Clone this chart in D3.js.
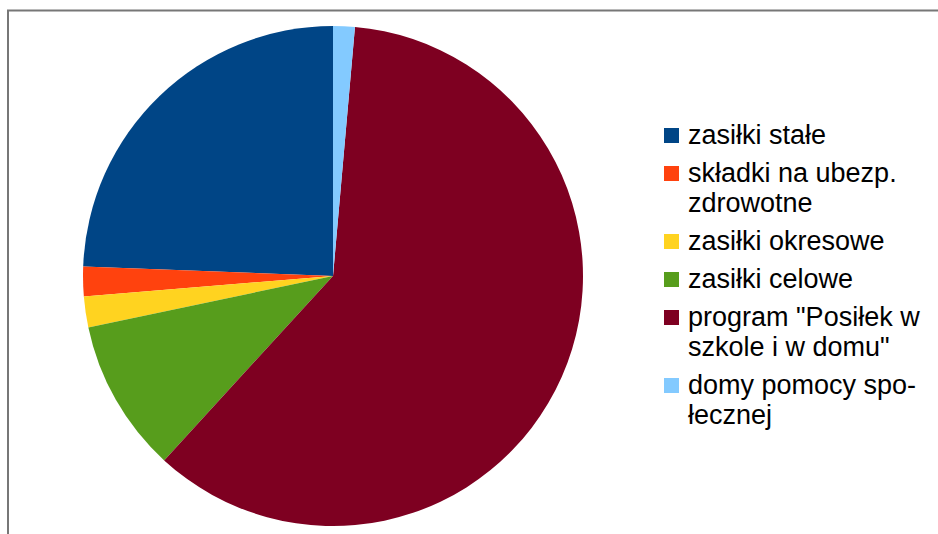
<!DOCTYPE html>
<html>
<head>
<meta charset="utf-8">
<script src="https://cdn.jsdelivr.net/npm/d3@7"></script>
<style>
  body { margin: 0; background: #fff; }
  svg { display: block; }
</style>
</head>
<body>
<script>
// udzial wydatkow (%)
var categories = [
  ["zasiłki stałe"],
  ["składki na ubezp.", "zdrowotne"],
  ["zasiłki okresowe"],
  ["zasiłki celowe"],
  ["program \"Posiłek w", "szkole i w domu\""],
  ["domy pomocy spo-", "łecznej"]
];
var values = [24.4, 1.9, 2.0, 9.9, 60.4, 1.4];
var colors = ["#004586", "#ff420e", "#ffd320", "#579d1c", "#7e0021", "#83caff"];

var width = 938, height = 534;

var svg = d3.select("body")
  .append("svg")
  .attr("width", width)
  .attr("height", height);

// ramka wykresu
svg.append("path")
  .attr("d", "M8,534 L8,10.5 L938,10.5")
  .attr("fill", "none")
  .attr("stroke", "#777")
  .attr("stroke-width", 2);

var data = values.map(function(v, i) { return { name: categories[i], value: v, color: colors[i] }; });

var pie = d3.pie()
  .sort(null)
  .value(function(d) { return d.value; })
  .startAngle(0)
  .endAngle(-2 * Math.PI);

var arc = d3.arc().innerRadius(0).outerRadius(250);

svg.append("g")
  .attr("transform", "translate(333,276)")
  .selectAll("path")
  .data(pie(data))
  .enter()
  .append("path")
  .attr("d", arc)
  .attr("fill", function(d) { return d.data.color; });

// legenda
var lineH = 30, gap = 8;
var y = 144;
var legend = svg.append("g");
data.forEach(function(d) {
  legend.append("rect")
    .attr("x", 664)
    .attr("y", y - 16)
    .attr("width", 15)
    .attr("height", 15)
    .attr("fill", d.color);
  var t = legend.append("text")
    .attr("x", 688)
    .attr("y", y)
    .attr("font-family", "'Liberation Sans', Arial, sans-serif")
    .attr("font-size", "27px")
    .attr("fill", "#000");
  d.name.forEach(function(line, j) {
    t.append("tspan")
      .attr("x", 688)
      .attr("y", y + j * lineH)
      .text(line);
  });
  y += d.name.length * lineH + gap;
});
</script>
</body>
</html>
